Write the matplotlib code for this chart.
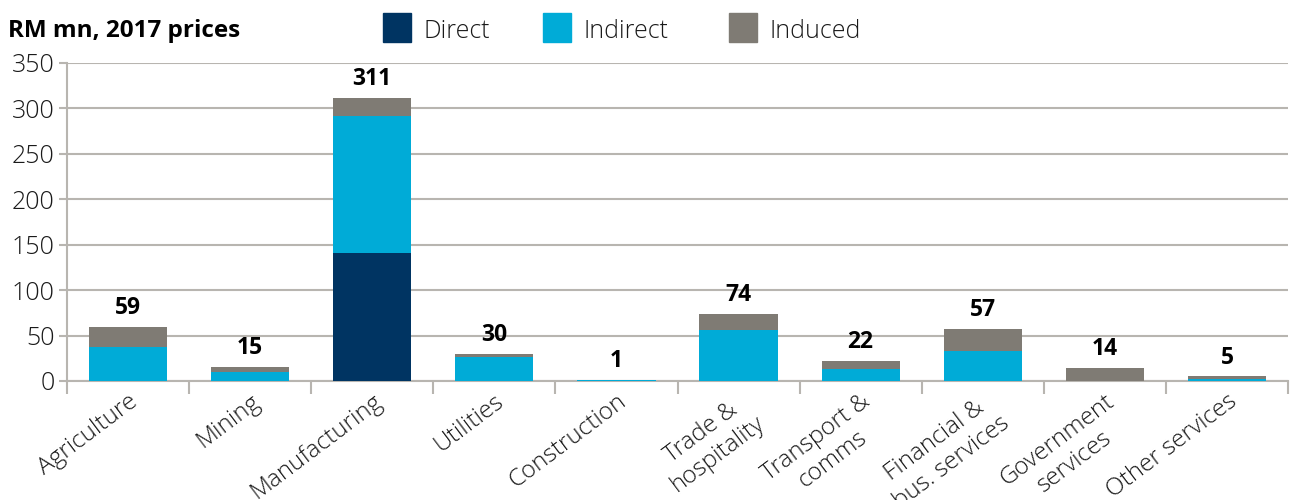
import matplotlib
matplotlib.use("Agg")
import matplotlib.pyplot as plt
from matplotlib.patches import Rectangle
import numpy as np

categories = ["Agriculture", "Mining", "Manufacturing", "Utilities", "Construction",
              "Trade &\nhospitality", "Transport &\ncomms", "Financial &\nbus. services",
              "Government\nservices", "Other services"]
direct = [0, 0, 141, 0, 0, 0, 0, 0, 0, 0]
indirect = [37, 10, 151, 26, 0.6, 56, 13.5, 32.5, 0, 2]
induced = [22, 5, 19, 4, 0.4, 18, 8.5, 24.5, 14, 3]
totals = [59, 15, 311, 30, 1, 74, 22, 57, 14, 5]
yticks = [0, 50, 100, 150, 200, 250, 300, 350]

c_direct = "#003462"
c_indirect = "#00abd7"
c_induced = "#7f7b74"
grid_c = "#b8b5b0"
txt_c = "#1a1a1a"

plt.rcParams['font.family'] = ['Open Sans', 'DejaVu Sans']
thin = "light"

fig = plt.figure(figsize=(12.94, 5.0), dpi=100)
ax = fig.add_axes([67 / 1294, 1 - 381 / 500, (1288 - 67) / 1294, (381 - 63) / 500])

x = np.arange(len(categories))
w = 0.64
d = np.array(direct)
i = np.array(indirect)
n = np.array(induced)
ax.bar(x, d, w, color=c_direct, zorder=3, label="Direct")
ax.bar(x, i, w, bottom=d, color=c_indirect, zorder=3, label="Indirect")
ax.bar(x, n, w, bottom=d + i, color=c_induced, zorder=3, label="Induced")

for xi, t in zip(x, totals):
    ax.annotate(str(t), (xi, t), xytext=(0, 5), textcoords="offset points",
                ha="center", va="bottom", fontsize=16.5, fontweight="bold", color="black")

ax.set_ylim(0, 350)
ax.set_xlim(-0.5, len(categories) - 0.5)
ax.set_yticks(yticks)
ax.set_yticklabels([str(v) for v in yticks], fontsize=18, fontweight=thin, color=txt_c)
ax.yaxis.grid(True, color=grid_c, linewidth=1.5, zorder=0)
ax.set_axisbelow(True)

ax.set_xticks(np.arange(-0.5, len(categories), 1.0))
ax.set_xticklabels([])
ax.set_xticks(x, minor=True)
ax.set_xticklabels(categories, minor=True, rotation=37, ha="right",
                   rotation_mode="anchor", fontsize=17.5, fontweight=thin,
                   color=txt_c, multialignment="center")
ax.tick_params(axis="x", which="minor", length=0, pad=6)
ax.tick_params(axis="x", which="major", length=9, color=grid_c, width=1.5)
ax.tick_params(axis="y", length=6, color=grid_c, width=1.5, pad=3)

for s in ["top", "right"]:
    ax.spines[s].set_visible(False)
for s in ["left", "bottom"]:
    ax.spines[s].set_color(grid_c)
    ax.spines[s].set_linewidth(1.5)

fig.text(8 / 1294, 1 - 28 / 500, "RM mn, 2017 prices", fontsize=17.5, fontweight="bold",
         ha="left", va="center_baseline", color="black")

legend_items = [("Direct", c_direct, 383), ("Indirect", c_indirect, 543), ("Induced", c_induced, 729)]
for lab, col, px in legend_items:
    fig.patches.append(Rectangle((px / 1294, 1 - 42 / 500), 28 / 1294, 29 / 500,
                                 transform=fig.transFigure, color=col, figure=fig))
    fig.text((px + 41) / 1294, 1 - 28 / 500, lab, fontsize=18, fontweight=thin,
             ha="left", va="center_baseline", color=txt_c)

fig.savefig("out.png", dpi=100)
